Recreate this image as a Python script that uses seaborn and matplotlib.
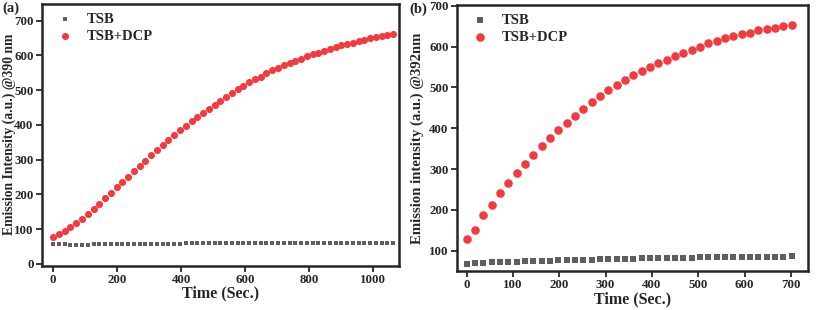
import numpy as np
import pandas as pd
import matplotlib
matplotlib.use("Agg")
import matplotlib.pyplot as plt
import seaborn as sns

# Panel (a): emission @390 nm, readings every 18 s
time_a = list(range(0, 1063, 18))
tsb_a = [56, 56, 56, 55, 55, 55, 55, 56, 56, 56, 57, 57, 57, 57, 57, 58, 58, 58, 58, 58,
         58, 58, 58, 59, 59, 59, 59, 59, 59, 59, 59, 59, 59, 59, 59, 59, 60, 60, 60, 60,
         60, 60, 60, 60, 60, 60, 60, 60, 60, 60, 60, 60, 60, 61, 61, 61, 61, 61, 61, 61]
dcp_a = [77, 85, 95, 105, 117, 129, 143, 158, 173, 188, 203, 220, 235, 251, 266, 282, 297, 313, 327, 342,
         356, 370, 384, 397, 410, 422, 435, 446, 457, 469, 481, 492, 502, 513, 523, 531, 539, 548, 557, 564,
         571, 578, 584, 591, 597, 603, 608, 613, 619, 624, 629, 633, 637, 642, 645, 649, 653, 656, 659, 662]

# Panel (b): emission @392 nm
time_b = list(range(0, 703, 18))
tsb_b = [68, 69, 70, 71, 71, 72, 73, 74, 74, 75, 75, 76, 77, 77, 78, 78, 79, 79, 80, 80,
         80, 81, 81, 82, 82, 82, 83, 83, 84, 84, 84, 84, 85, 85, 85, 85, 85, 85, 85, 86]
dcp_b = [128, 150, 187, 213, 240, 265, 290, 313, 335, 357, 376, 395, 413, 431, 448, 465, 479, 493, 505, 519,
         530, 540, 550, 560, 568, 577, 585, 591, 600, 608, 615, 620, 625, 631, 634, 640, 643, 646, 650, 654]

sns.set_style("ticks")
plt.rcParams['font.family'] = ['Liberation Serif', 'DejaVu Serif']
plt.rcParams['font.weight'] = 'bold'
plt.rcParams['axes.labelweight'] = 'bold'

GRAY = '#5f5f5f'
RED = '#f23a3f'


def panel(ax, t, tsb, dcp, ylabel, tag, sq, circ, tag_x, ylab_x, ylab_fs):
    df = pd.DataFrame({'t': t, 'TSB': tsb, 'TSB+DCP': dcp})
    sns.scatterplot(data=df, x='t', y='TSB', marker='s', color=GRAY, s=sq,
                    linewidth=0, label='TSB', ax=ax)
    sns.scatterplot(data=df, x='t', y='TSB+DCP', marker='o', color=RED, s=circ,
                    linewidth=0, label='TSB+DCP', ax=ax)
    ax.set_xlabel('Time (Sec.)', fontsize=11.5, labelpad=0)
    ax.set_ylabel(ylabel, fontsize=ylab_fs)
    ax.yaxis.set_label_coords(ylab_x, 0.5)
    for sp in ax.spines.values():
        sp.set_linewidth(1.8)
    ax.tick_params(width=1.3, length=4, labelsize=9.3, pad=2)
    for lab in ax.get_xticklabels() + ax.get_yticklabels():
        lab.set_fontweight('bold')
    leg = ax.legend(loc='upper left', frameon=False, fontsize=10.5, handletextpad=0.5,
                    borderaxespad=0.2, labelspacing=0.25, markerscale=1.0)
    for txt in leg.get_texts():
        txt.set_fontweight('bold')
    ax.text(tag_x, 0.985, tag, transform=ax.transAxes, fontsize=10.5, fontweight='bold',
            va='center', ha='left')


fig = plt.figure(figsize=(8.17, 3.10), dpi=100)
ax1 = fig.add_axes([0.0514, 0.1435, 0.437, 0.8435])
ax2 = fig.add_axes([0.5594, 0.1258, 0.4296, 0.858])

panel(ax1, time_a, tsb_a, dcp_a, 'Emission Intensity (a.u.) @390 nm', '(a)', 12, 26, -0.112, -0.074, 9.8)
ax1.set_xlim(-35, 1080)
ax1.set_ylim(-5, 748)
ax1.set_xticks([0, 200, 400, 600, 800, 1000])
ax1.set_yticks(range(0, 701, 100))

panel(ax2, time_b, tsb_b, dcp_b, 'Emission intensity (a.u.) @392nm', '(b)', 20, 38, -0.135, -0.094, 10.6)
ax2.set_xlim(-21, 737)
ax2.set_ylim(50, 702)
ax2.set_xticks(range(0, 701, 100))
ax2.set_yticks(range(100, 701, 100))

fig.savefig('out.png', dpi=100)
